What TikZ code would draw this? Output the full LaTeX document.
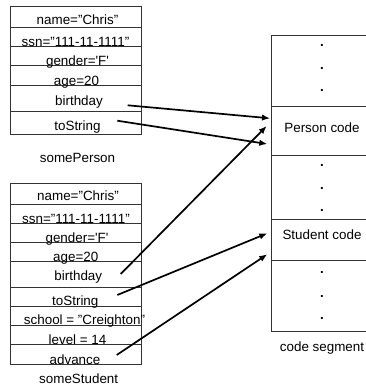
\documentclass[tikz,border=0pt]{standalone}
\usepackage{fontspec}
\setmainfont{Liberation Sans}
\usetikzlibrary{arrows.meta}
\begin{document}
\begin{tikzpicture}[x=1pt,y=-1pt,font=\fontsize{13.4}{15}\selectfont,
  box/.style={draw=black!80,line width=0.8pt},
  cell/.style={anchor=base,inner sep=0pt},
  ptr/.style={line width=1.7pt,-{Latex[length=8pt,width=6.5pt]}}]
\useasboundingbox (0,0) rectangle (366,388);
\def\q{\textquotesingle}

% somePerson object
\draw[box] (10,6) rectangle (141,134);
\foreach \y in {27.7,46.7,65.7,85.7,111}
  \draw[box] (10,\y) -- (141,\y);
\node[cell] (pname) at (77.5,24.7) {name="Chris"};
\node[cell] (pssn) at (75.5,46.5) {ssn="111-11-1111"};
\node[cell] (pgender) at (77.5,65.5) {gender=\q F\q};
\node[cell] (page) at (76.5,85.5) {age=20};
\node[cell] (pbirthday) at (79,105.3) {birthday};
\node[cell] (ptostring) at (77.5,130) {toString};
\node[cell] (plabel) at (77.5,162) {somePerson};

% someStudent object
\draw[box] (10,183.3) rectangle (141,364.3);
\foreach \y in {204,223.3,242.3,261.7,287.7,306,325,344.3}
  \draw[box] (10,\y) -- (141,\y);
\node[cell] (sname) at (78,200.7) {name="Chris"};
\node[cell] (sssn) at (76,223.1) {ssn="111-11-1111"};
\node[cell] (sgender) at (77,242.1) {gender=\q F\q};
\node[cell] (sage) at (75.7,261.5) {age=20};
\node[cell] (sbirthday) at (78.3,280.7) {birthday};
\node[cell] (stostring) at (75.3,305.8) {toString};
\node[cell] (sschool) at (84.5,324.8) {school = "Creighton"};
\node[cell] (slevel) at (77.5,344.1) {level = 14};
\node[cell] (sadvance) at (75,364.1) {advance};
\node[cell] (slabel) at (78.7,383.3) {someStudent};

% code segment (open on the right)
\draw[box] (366,35) -- (271.5,35) -- (271.5,331) -- (366,331);
\foreach \y in {106,155,219,260.7}
  \draw[box] (271.5,\y) -- (366,\y);
\foreach \y [count=\i] in {46,69.3,91.7,166.7,189.3,211.7,273.7,297,319.3}
  \node[cell] (dot\i) at (322,\y) {\textbf{.}};
\node[cell] (pcode) at (322,132) {Person code};
\node[cell] (scode) at (322,239.7) {Student code};
\node[cell] (seglabel) at (322,351.7) {code segment};

% pointers into the code
\coordinate (pb) at (127.7,105.3);
\coordinate (pt) at (117.3,120.7);
\coordinate (sb) at (120.7,274);
\coordinate (st) at (117.3,295);
\coordinate (sa) at (116.7,355);
\coordinate (pc1) at (270,118.3);
\coordinate (pc2) at (267.3,144);
\coordinate (pc3) at (266.7,126);
\coordinate (sc1) at (267.3,233.3);
\coordinate (sc2) at (267.3,254.3);
\draw[ptr] (pb) -- (pc1);
\draw[ptr] (pt) -- (pc2);
\draw[ptr] (sb) -- (pc3);
\draw[ptr] (st) -- (sc1);
\draw[ptr] (sa) -- (sc2);
\end{tikzpicture}
\end{document}
